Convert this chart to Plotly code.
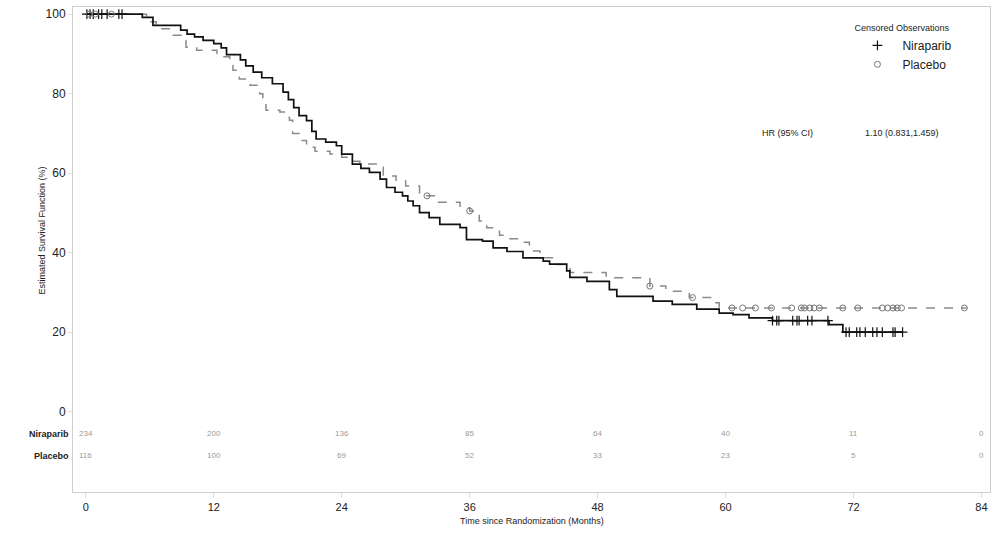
import numpy as np
import plotly.graph_objects as go

# ---------------- data ----------------
nir_t = [0, 5.3, 6.3, 8.9, 9.5, 10.2, 11.0, 12.0, 12.7, 13.2, 14.5, 15.0, 15.7, 16.5, 17.5, 18.5,
         19.0, 19.5, 20.0, 20.7, 21.2, 21.6, 22.5, 23.5, 24.0, 25.0, 25.8, 26.6, 27.6, 28.2, 29.0,
         29.7, 30.2, 30.7, 31.3, 32.2, 33.2, 35.1, 35.7, 37.2, 38.2, 39.5, 41.0, 42.9, 43.5, 45.1,
         45.4, 47.0, 49.1, 49.8, 53.2, 55.0, 57.3, 59.4, 60.7, 62.2, 64.4, 69.7, 71.0, 76.6]
nir_s = [100, 99.2, 97.2, 96.0, 95.0, 94.3, 93.4, 92.6, 91.5, 89.8, 88.5, 87.0, 85.4, 84.0, 82.5, 80.4,
         78.5, 76.5, 74.5, 73.2, 70.5, 68.6, 67.8, 66.9, 64.8, 62.3, 61.2, 60.2, 58.5, 56.4, 55.2,
         54.3, 53.0, 51.8, 50.1, 48.8, 47.1, 46.3, 43.3, 42.9, 41.2, 40.3, 38.7, 37.9, 37.1, 35.4,
         33.8, 32.8, 30.7, 29.0, 27.8, 27.0, 25.8, 24.8, 24.4, 23.6, 22.9, 21.9, 20.0, 20.0]

pla_t = [0, 5.7, 6.6, 8.2, 9.1, 9.4, 10.4, 12.3, 12.8, 13.5, 13.8, 14.4, 15.4, 16.3, 16.6, 16.9,
         18.2, 18.8, 19.1, 19.4, 20.0, 20.7, 21.5, 22.9, 24.0, 25.0, 25.7, 27.6, 27.9, 29.1, 30.0,
         31.3, 32.9, 35.1, 36.0, 36.9, 37.6, 38.8, 39.5, 40.7, 41.6, 42.6, 44.1, 45.4, 48.8, 52.9,
         54.4, 56.6, 58.8, 59.4, 82.6]
pla_s = [100, 98.1, 96.3, 94.7, 93.4, 91.7, 90.9, 90.1, 89.3, 87.1, 85.9, 83.7, 82.1, 80.0, 77.5, 75.8,
         75.4, 74.0, 73.3, 70.0, 68.2, 66.5, 65.5, 64.8, 64.0, 63.0, 62.3, 61.5, 59.3, 58.0, 56.8,
         54.3, 52.7, 51.3, 50.5, 48.0, 46.3, 44.4, 43.5, 42.6, 40.4, 38.7, 37.0, 35.0, 33.7, 31.6,
         30.3, 28.7, 27.4, 26.1, 26.1]

nir_cens = [0.1, 0.4, 0.7, 1.2, 1.5, 2.0, 3.1, 3.4,
            64.4, 64.8, 65.0, 66.3, 66.7, 66.9, 67.7, 68.1, 69.6,
            71.3, 71.6, 72.3, 72.6, 73.1, 73.8, 74.2, 74.7, 75.7, 75.9, 76.6]
pla_cens = [0.3, 0.9, 2.4, 32.0, 36.0, 52.9, 56.9, 60.6, 61.6, 62.8, 64.3, 66.2, 67.1, 67.4,
            67.9, 68.3, 68.8, 71.0, 72.4, 74.7, 75.2, 75.7, 76.1, 76.5, 82.4]

risk_times = [0, 12, 24, 36, 48, 60, 72, 84]
nir_risk = [234, 200, 136, 85, 64, 40, 11, 0]
pla_risk = [116, 100, 69, 52, 33, 23, 5, 0]

hr_label = "HR (95% CI)"
hr_value = "1.10 (0.831,1.459)"


def surv_at(times, surv, pts):
    idx = np.searchsorted(np.array(times), np.array(pts), side="right") - 1
    return [surv[i] for i in idx]


FONT = "Liberation Sans, Arial, sans-serif"
fig = go.Figure()

fig.add_trace(go.Scatter(x=pla_t, y=pla_s, mode="lines", line_shape="hv",
                         line=dict(color="#8a8a8a", width=1.5, dash="dash"),
                         showlegend=False, hoverinfo="skip"))
fig.add_trace(go.Scatter(x=nir_t, y=nir_s, mode="lines", line_shape="hv",
                         line=dict(color="#111111", width=1.7),
                         showlegend=False, hoverinfo="skip"))

fig.add_trace(go.Scatter(x=nir_cens, y=surv_at(nir_t, nir_s, nir_cens), mode="markers",
                         name="Niraparib",
                         marker=dict(symbol="cross-thin-open", size=7, color="#111111",
                                     line=dict(width=1.2, color="#111111"))))
fig.add_trace(go.Scatter(x=pla_cens, y=surv_at(pla_t, pla_s, pla_cens), mode="markers",
                         name="Placebo",
                         marker=dict(symbol="circle-open", size=6, color="#777777",
                                     line=dict(width=1, color="#777777"))))

# number at risk
for t, n in zip(risk_times, nir_risk):
    fig.add_annotation(x=t, y=-5.6, text=str(n), showarrow=False,
                       font=dict(size=8, color="#9a9a9a", family=FONT))
for t, n in zip(risk_times, pla_risk):
    fig.add_annotation(x=t, y=-11.1, text=str(n), showarrow=False,
                       font=dict(size=8, color="#9a9a9a", family=FONT))
fig.add_annotation(xref="paper", x=0, y=-5.6, xshift=-2, text="<b>Niraparib</b>", showarrow=False,
                   xanchor="right", font=dict(size=9, color="#222", family=FONT))
fig.add_annotation(xref="paper", x=0, y=-11.1, xshift=-2, text="<b>Placebo</b>", showarrow=False,
                   xanchor="right", font=dict(size=9, color="#222", family=FONT))

# HR text
fig.add_annotation(xref="paper", yref="paper", x=0.749, y=0.755, text=hr_label, showarrow=False,
                   xanchor="left", font=dict(size=9, color="#222", family=FONT))
fig.add_annotation(xref="paper", yref="paper", x=0.861, y=0.755, text=hr_value, showarrow=False,
                   xanchor="left", font=dict(size=9, color="#222", family=FONT))

# axis titles
fig.add_annotation(xref="paper", yref="paper", x=-0.041, y=0.54, text="Estimated Survival Function (%)",
                   textangle=-90, showarrow=False, font=dict(size=9, color="#222", family=FONT))
fig.add_annotation(xref="paper", yref="paper", x=0.5, y=-0.074, text="Time since Randomization (Months)",
                   showarrow=False, font=dict(size=9, color="#222", family=FONT))

fig.update_xaxes(range=[-1.2, 84.8], tickvals=risk_times, showgrid=False, zeroline=False,
                 showline=True, linecolor="#cfcfcf", linewidth=1, mirror=True, automargin=False,
                 ticks="outside", ticklen=5, tickcolor="#dddddd",
                 tickfont=dict(size=11, color="#222", family=FONT))
fig.update_yaxes(range=[-20.2, 101.8], tickvals=[0, 20, 40, 60, 80, 100], showgrid=False, zeroline=False,
                 showline=True, linecolor="#cfcfcf", linewidth=1, mirror=True, automargin=False,
                 ticks="outside", ticklen=4, tickcolor="#dddddd",
                 tickfont=dict(size=12, color="#222", family=FONT))

fig.update_layout(width=995, height=541, margin=dict(l=73, r=5, t=7, b=49, autoexpand=False),
                  plot_bgcolor="white", paper_bgcolor="white",
                  font=dict(family=FONT),
                  legend=dict(x=0.85, y=0.975, xanchor="left", yanchor="top",
                              title=dict(text="Censored Observations", side="top",
                                         font=dict(size=9, color="#222", family=FONT)),
                              font=dict(size=12, color="#222", family=FONT),
                              bgcolor="rgba(0,0,0,0)", tracegroupgap=0, itemwidth=40))

# remove the browser's default 8px body margin so the figure fills the window exactly
fig.write_html("out.html", config={"displayModeBar": False},
               post_script="document.body.style.margin='0';document.body.style.overflow='hidden';")
